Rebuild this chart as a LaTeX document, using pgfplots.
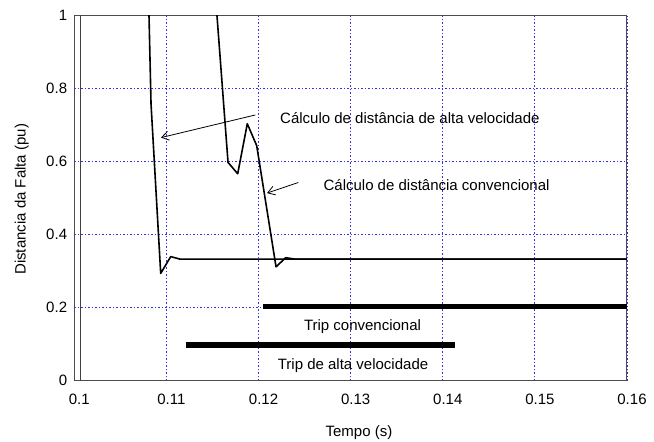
\documentclass[border=0pt]{standalone}
\usepackage{pgfplots}
\pgfplotsset{compat=1.18}
\usepackage{fontspec}
\setmainfont{Liberation Sans}
\usetikzlibrary{arrows.meta}
\definecolor{gridblue}{rgb}{0.2,0.2,0.9}
\begin{document}
\fontsize{15}{18}\selectfont
\begin{tikzpicture}
\path[use as bounding box] (-74.3pt,-61.3pt) rectangle (579.7pt,380.7pt);
\begin{axis}[
  scale only axis,
  width=552.7pt, height=365pt,
  xmin=0.1, xmax=0.16, ymin=0, ymax=1,
  xtick={0.1,0.11,0.12,0.13,0.14,0.15,0.16},
  xticklabels={0.1,0.11,0.12,0.13,0.14,0.15,0.16},
  ytick={0,0.2,0.4,0.6,0.8,1},
  yticklabels={0,0.2,0.4,0.6,0.8,1},
  major tick length=0pt,
  grid=major,
  major grid style={gridblue, line width=0.8pt, dash pattern=on 1.3pt off 2.2pt},
  axis line style={black!70, line width=1pt},
  xticklabel style={yshift=-8pt, xshift=5pt},
  yticklabel style={xshift=-2pt},
  ticklabel style={font=\fontsize{15}{18}\selectfont},
  xlabel={Tempo (s)},
  ylabel={Distancia da Falta (pu)},
  xlabel style={at={(axis description cs:0.515,-0.143)}, anchor=center, font=\fontsize{15}{18}\selectfont},
  ylabel style={at={(axis description cs:-0.0952,0.497)}, anchor=center, rotate=0, font=\fontsize{15}{18}\selectfont},
  /pgf/number format/assume math mode=true,
]
% initial step of the signal
\addplot[black!75, line width=1pt] coordinates {(0.10062,0) (0.10062,1.2)};
% high speed distance
\addplot[black, line width=1.6pt, line join=round] coordinates {
  (0.10793,1.2) (0.10811,1.0) (0.10833,0.758)
  (0.10938,0.294) (0.11047,0.340) (0.11148,0.333) (0.16,0.333)
};
% conventional distance
\addplot[black, line width=1.6pt, line join=round] coordinates {
  (0.11489,1.2) (0.11549,1.0) (0.11669,0.598) (0.11774,0.567) (0.11878,0.704)
  (0.11980,0.644) (0.12190,0.312) (0.12295,0.337) (0.12396,0.333) (0.16,0.333)
};
% trip conventional
\addplot[black, line width=5.7pt] coordinates {(0.12052,0.203) (0.16,0.203)};
% trip high speed
\addplot[black, line width=5.7pt] coordinates {(0.11213,0.098) (0.14134,0.098)};
\draw[-{Straight Barb[length=7pt,width=9pt]}, line width=0.8pt] (axis cs:0.11965,0.728) -- (axis cs:0.10941,0.666);
\draw[-{Straight Barb[length=7pt,width=9pt]}, line width=0.8pt] (axis cs:0.12432,0.543) -- (axis cs:0.12092,0.514);
\node[anchor=west, inner sep=0pt] at (axis cs:0.12233,0.7205) {Cálculo de distância de alta velocidade};
\node[anchor=west, inner sep=0pt] at (axis cs:0.12704,0.536) {Cálculo de distância convencional};
\node[anchor=center, inner sep=0pt] at (axis cs:0.13129,0.148) {Trip convencional};
\node[anchor=center, inner sep=0pt] at (axis cs:0.13026,0.040) {Trip de alta velocidade};
\end{axis}
\end{tikzpicture}
\end{document}
